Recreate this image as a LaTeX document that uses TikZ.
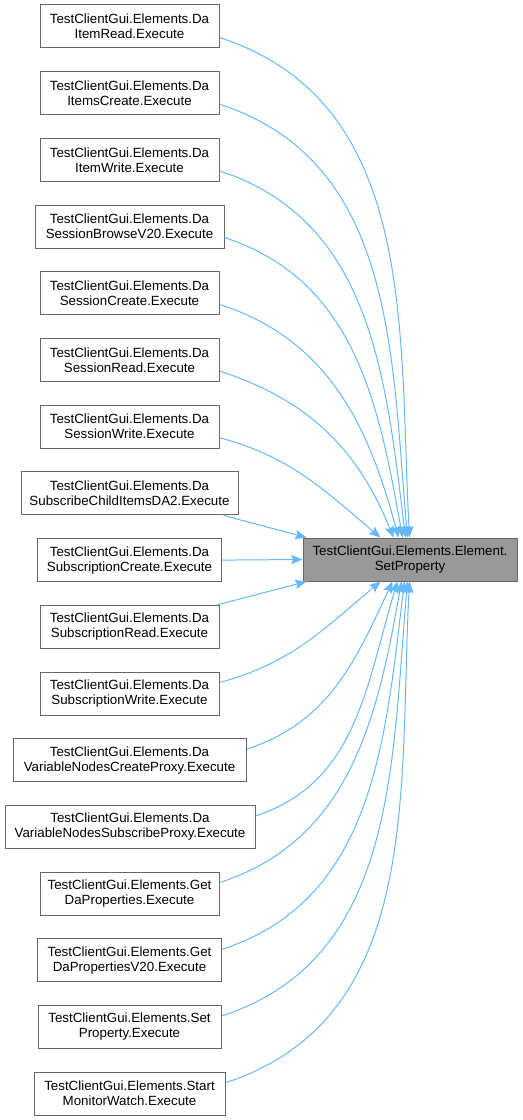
\documentclass[tikz,border=0pt]{standalone}
\usepackage{fontspec}
\setmainfont{Liberation Sans}
\usetikzlibrary{arrows.meta,calc}
\definecolor{edgec}{HTML}{63B8FF}
\definecolor{boxb}{HTML}{666666}
\definecolor{tfill}{HTML}{999999}
\begin{document}
\begin{tikzpicture}[x=0.75pt,y=0.75pt,
  box/.style={draw=boxb,fill=white,line width=0.75pt,minimum height=32.25pt,align=center,inner sep=0pt,font=\fontsize{10}{11.25}\selectfont},
  tbox/.style={box,fill=tfill},
  edge/.style={draw=edgec,line width=0.75pt,-{Stealth[length=8.5pt,width=7pt,inset=1.5pt]}}]
\useasboundingbox (0,0) rectangle (522,-1120);
\node[box,minimum width=134.25pt] (n1) at (129.5,-26.5) {TestClientGui.Elements.Da\\ItemRead.Execute};
\node[box,minimum width=134.25pt] (n2) at (129.5,-93.2) {TestClientGui.Elements.Da\\ItemsCreate.Execute};
\node[box,minimum width=134.25pt] (n3) at (129.5,-159.9) {TestClientGui.Elements.Da\\ItemWrite.Execute};
\node[box,minimum width=141.75pt] (n4) at (129.5,-226.6) {TestClientGui.Elements.Da\\SessionBrowseV20.Execute};
\node[box,minimum width=134.25pt] (n5) at (129.5,-293.3) {TestClientGui.Elements.Da\\SessionCreate.Execute};
\node[box,minimum width=134.25pt] (n6) at (129.5,-360) {TestClientGui.Elements.Da\\SessionRead.Execute};
\node[box,minimum width=134.25pt] (n7) at (129.5,-426.7) {TestClientGui.Elements.Da\\SessionWrite.Execute};
\node[box,minimum width=162.75pt] (n8) at (129.5,-493.4) {TestClientGui.Elements.Da\\SubscribeChildItemsDA2.Execute};
\node[box,minimum width=138pt] (n9) at (129.5,-560.1) {TestClientGui.Elements.Da\\SubscriptionCreate.Execute};
\node[box,minimum width=134.25pt] (n10) at (129.5,-626.8) {TestClientGui.Elements.Da\\SubscriptionRead.Execute};
\node[box,minimum width=134.25pt] (n11) at (129.5,-693.5) {TestClientGui.Elements.Da\\SubscriptionWrite.Execute};
\node[box,minimum width=174.75pt] (n12) at (129.5,-760.2) {TestClientGui.Elements.Da\\VariableNodesCreateProxy.Execute};
\node[box,minimum width=187.5pt] (n13) at (130,-826.9) {TestClientGui.Elements.Da\\VariableNodesSubscribeProxy.Execute};
\node[box,minimum width=134.25pt] (n14) at (129.5,-893.6) {TestClientGui.Elements.Get\\DaProperties.Execute};
\node[box,minimum width=138pt] (n15) at (129.5,-960.3) {TestClientGui.Elements.Get\\DaPropertiesV20.Execute};
\node[box,minimum width=137.25pt] (n16) at (129.5,-1027) {TestClientGui.Elements.Set\\Property.Execute};
\node[box,minimum width=143.25pt] (n17) at (129.5,-1093.7) {TestClientGui.Elements.Start\\MonitorWatch.Execute};
\node[tbox,minimum width=160.5pt] (t) at (410,-559.5) {TestClientGui.Elements.Element.\\SetProperty};
% upper curves
\draw[edge] ($(n1.east)+(0,-11)$) to[out=-18,in=93] ($(t.north west)+(107,0)$);
\draw[edge] ($(n2.east)+(0,-11)$) to[out=-18,in=95] ($(t.north west)+(105,0)$);
\draw[edge] ($(n3.east)+(0,-11)$) to[out=-18,in=97] ($(t.north west)+(103,0)$);
\draw[edge] ($(n4.east)+(0,-11)$) to[out=-18,in=100] ($(t.north west)+(100,0)$);
\draw[edge] ($(n5.east)+(0,-11)$) to[out=-18,in=105] ($(t.north west)+(96,0)$);
\draw[edge] ($(n6.east)+(0,-11)$) to[out=-18,in=112] ($(t.north west)+(91,0)$);
\draw[edge] ($(n7.east)+(0,-11)$) to[out=-15,in=140] ($(t.north west)+(78,0)$);
% straight
\draw[edge] ($(n8.south east)+(-15,0)$) -- ($(t.north west)+(4,0)$);
\draw[edge] (n9.east) -- (t.west);
\draw[edge] ($(n10.north east)+(-2,0)$) -- ($(t.south west)+(4,0)$);
% lower curves
\draw[edge] ($(n11.east)+(0,11)$) to[out=15,in=-140] ($(t.south west)+(78,0)$);
\draw[edge] ($(n12.east)+(0,11)$) to[out=18,in=-115] ($(t.south west)+(90,0)$);
\draw[edge] ($(n13.east)+(0,11)$) to[out=18,in=-107] ($(t.south west)+(95,0)$);
\draw[edge] ($(n14.east)+(0,11)$) to[out=18,in=-100] ($(t.south west)+(99,0)$);
\draw[edge] ($(n15.east)+(0,11)$) to[out=18,in=-97] ($(t.south west)+(102,0)$);
\draw[edge] ($(n16.east)+(0,11)$) to[out=18,in=-95] ($(t.south west)+(105,0)$);
\draw[edge] ($(n17.east)+(0,11)$) to[out=18,in=-93] ($(t.south west)+(107,0)$);
\end{tikzpicture}
\end{document}
